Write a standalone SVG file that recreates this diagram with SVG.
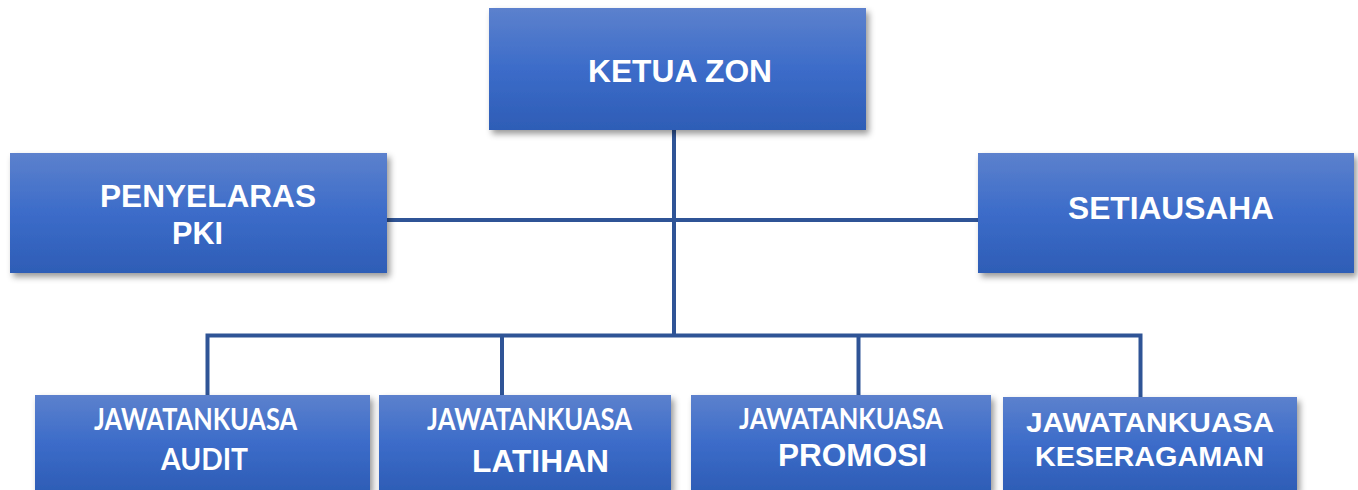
<svg xmlns="http://www.w3.org/2000/svg" width="1358" height="490" viewBox="0 0 1358 490">
<defs>
<linearGradient id="boxGrad" x1="0" y1="0" x2="0" y2="1">
<stop offset="0" stop-color="#5C81CD"/>
<stop offset="0.5" stop-color="#3C6CC9"/>
<stop offset="1" stop-color="#2E5DB6"/>
</linearGradient>
<filter id="shadow" x="-10%" y="-10%" width="125%" height="135%">
<feDropShadow dx="3" dy="4" stdDeviation="3" flood-color="#000" flood-opacity="0.4"/>
</filter>
</defs>
<style>
.box{fill:url(#boxGrad);filter:url(#shadow);}
.t{fill:#fff;font-family:"Liberation Sans",Arial,sans-serif;font-weight:bold;text-anchor:middle;}
.c{fill:#fff;font-family:Lato,"Liberation Sans",sans-serif;font-weight:bold;text-anchor:middle;}
.conn{stroke:#2F5496;stroke-width:4;fill:none;}
</style>
<rect width="1358" height="490" fill="#fff"/>
<g id="connectors">
<line class="conn" x1="674" y1="130" x2="674" y2="336"/>
<line class="conn" x1="387" y1="220" x2="978" y2="220"/>
<polyline class="conn" points="207.5,395 207.5,335.5 1140.5,335.5 1140.5,397"/>
<line class="conn" x1="502" y1="335.5" x2="502" y2="395"/>
<line class="conn" x1="858.5" y1="335.5" x2="858.5" y2="395"/>
</g>
<g id="ketua-zon">
<rect class="box" x="489" y="8" width="377" height="122"/>
<text class="t" x="680" y="82" font-size="32" textLength="184" lengthAdjust="spacingAndGlyphs">KETUA ZON</text>
</g>
<g id="penyelaras-pki">
<rect class="box" x="10" y="153" width="377" height="120"/>
<text class="t" x="208" y="207" font-size="32" textLength="216" lengthAdjust="spacingAndGlyphs">PENYELARAS</text>
<text class="t" x="197.5" y="244" font-size="32" textLength="51" lengthAdjust="spacingAndGlyphs">PKI</text>
</g>
<g id="setiausaha">
<rect class="box" x="978" y="153" width="376" height="120"/>
<text class="t" x="1171" y="219" font-size="32" textLength="206" lengthAdjust="spacingAndGlyphs">SETIAUSAHA</text>
</g>
<g id="jk-audit">
<rect class="box" x="35" y="395" width="335" height="96"/>
<text class="c" x="195.5" y="430" font-size="29.5" textLength="203" lengthAdjust="spacingAndGlyphs">JAWATANKUASA</text>
<text class="c" x="204.5" y="470" font-size="30" textLength="87" lengthAdjust="spacingAndGlyphs">AUDIT</text>
</g>
<g id="jk-latihan">
<rect class="box" x="379" y="395" width="292" height="96"/>
<text class="c" x="529.5" y="430" font-size="29.5" textLength="205" lengthAdjust="spacingAndGlyphs">JAWATANKUASA</text>
<text class="t" x="540.5" y="471.5" font-size="31" textLength="137" lengthAdjust="spacingAndGlyphs">LATIHAN</text>
</g>
<g id="jk-promosi">
<rect class="box" x="691" y="395" width="300" height="96"/>
<text class="c" x="841" y="429" font-size="29" textLength="204" lengthAdjust="spacingAndGlyphs">JAWATANKUASA</text>
<text class="t" x="852.5" y="466" font-size="31" textLength="149" lengthAdjust="spacingAndGlyphs">PROMOSI</text>
</g>
<g id="jk-keseragaman">
<rect class="box" x="1003" y="397" width="294" height="94"/>
<text class="t" x="1150" y="432" font-size="28" textLength="248" lengthAdjust="spacingAndGlyphs">JAWATANKUASA</text>
<text class="t" x="1149.5" y="466" font-size="28" textLength="229" lengthAdjust="spacingAndGlyphs">KESERAGAMAN</text>
</g>
</svg>
